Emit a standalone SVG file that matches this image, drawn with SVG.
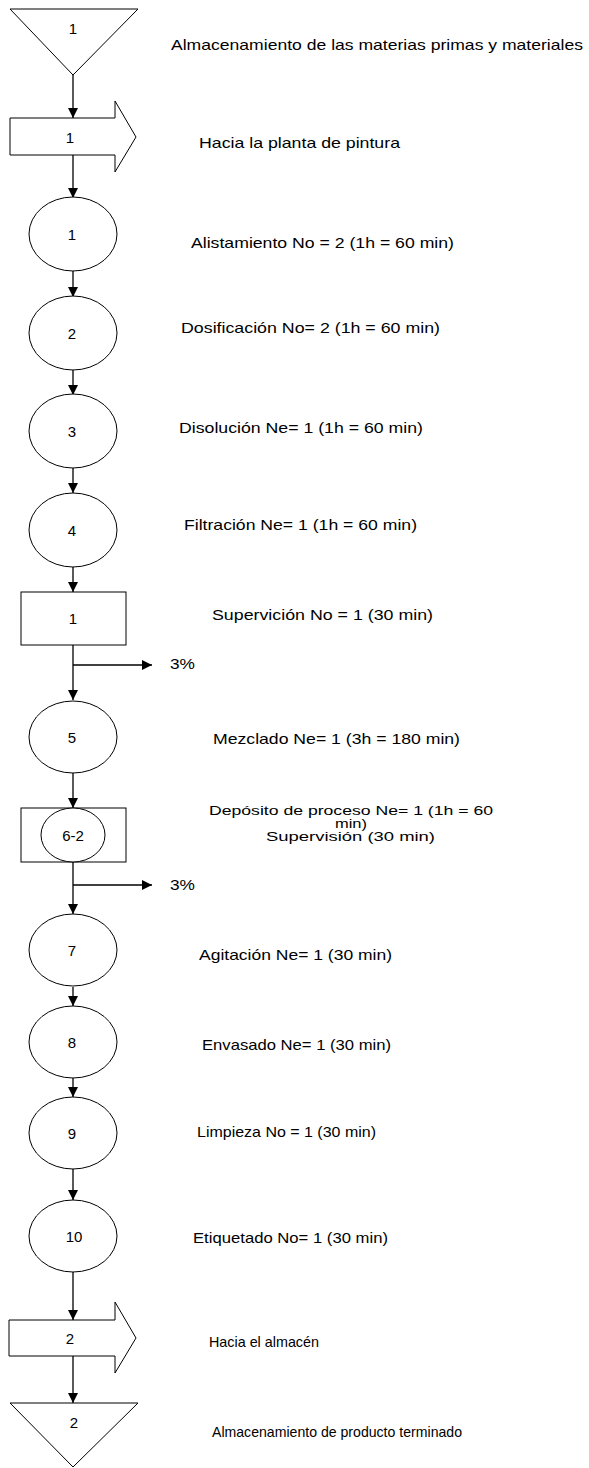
<svg xmlns="http://www.w3.org/2000/svg" width="589" height="1468" viewBox="0 0 589 1468">
<style>
.s{fill:#fff;stroke:#000;stroke-width:1}
.t{font-family:"Liberation Sans",Arial,sans-serif;font-size:15px;fill:#000}
.m{font-family:"Liberation Sans",Arial,sans-serif;font-size:13px;fill:#000}
.n{font-family:"Liberation Sans",Arial,sans-serif;font-size:15px;fill:#000;text-anchor:middle}
.c{fill:none;stroke:#000;stroke-width:1.3}
</style>
<defs>
<marker id="ah" viewBox="0 0 10 10" refX="10" refY="5" markerWidth="10" markerHeight="10" markerUnits="userSpaceOnUse" orient="auto">
<path d="M0,0 L10,5 L0,10 Z" fill="#000"/>
</marker>
</defs>
<rect width="589" height="1468" fill="#fff"/>
<g id="connectors">
<line class="c" x1="73" y1="75" x2="73" y2="118" marker-end="url(#ah)"/>
<line class="c" x1="73" y1="155" x2="73" y2="198" marker-end="url(#ah)"/>
<line class="c" x1="73" y1="271" x2="73" y2="297" marker-end="url(#ah)"/>
<line class="c" x1="73" y1="370" x2="73" y2="395" marker-end="url(#ah)"/>
<line class="c" x1="73" y1="468" x2="73" y2="493" marker-end="url(#ah)"/>
<line class="c" x1="73" y1="567" x2="73" y2="592" marker-end="url(#ah)"/>
<line class="c" x1="73" y1="645" x2="73" y2="700" marker-end="url(#ah)"/>
<line class="c" x1="73" y1="665" x2="152" y2="665" marker-end="url(#ah)"/>
<line class="c" x1="73" y1="773" x2="73" y2="808" marker-end="url(#ah)"/>
<line class="c" x1="73" y1="862" x2="73" y2="914" marker-end="url(#ah)"/>
<line class="c" x1="73" y1="885" x2="152" y2="885" marker-end="url(#ah)"/>
<line class="c" x1="73" y1="987" x2="73" y2="1006" marker-end="url(#ah)"/>
<line class="c" x1="73" y1="1078" x2="73" y2="1097" marker-end="url(#ah)"/>
<line class="c" x1="73" y1="1168" x2="73" y2="1200" marker-end="url(#ah)"/>
<line class="c" x1="73" y1="1272" x2="73" y2="1320" marker-end="url(#ah)"/>
<line class="c" x1="73" y1="1356" x2="73" y2="1403" marker-end="url(#ah)"/>
</g>
<g id="storage1">
<polygon class="s" points="10,9 138,9 73,75"/>
<text class="n" x="73" y="34">1</text>
</g>
<g id="transport1">
<polygon class="s" points="10,118 115,118 115,101 136,137 115,172 115,155 10,155"/>
<text class="n" x="70" y="143">1</text>
</g>
<g id="op1"><ellipse class="s" cx="73" cy="234" rx="44" ry="37"/><text class="n" x="72" y="240">1</text></g>
<g id="op2"><ellipse class="s" cx="73" cy="333" rx="44" ry="37"/><text class="n" x="72" y="339">2</text></g>
<g id="op3"><ellipse class="s" cx="73" cy="431" rx="44" ry="37"/><text class="n" x="72" y="437">3</text></g>
<g id="op4"><ellipse class="s" cx="73" cy="530" rx="44" ry="37"/><text class="n" x="72" y="536">4</text></g>
<g id="insp1"><rect class="s" x="21" y="592" width="105" height="53"/><text class="n" x="73" y="624">1</text></g>
<g id="op5"><ellipse class="s" cx="73" cy="737" rx="44" ry="36"/><text class="n" x="72" y="743">5</text></g>
<g id="combo62">
<rect class="s" x="21" y="808" width="105" height="54"/>
<ellipse class="s" cx="73" cy="835" rx="32" ry="27"/>
<text class="n" x="73" y="841">6-2</text>
</g>
<g id="op7"><ellipse class="s" cx="73" cy="950" rx="44" ry="36"/><text class="n" x="72" y="956">7</text></g>
<g id="op8"><ellipse class="s" cx="73" cy="1042" rx="44" ry="36"/><text class="n" x="72" y="1048">8</text></g>
<g id="op9"><ellipse class="s" cx="73" cy="1133" rx="44" ry="36"/><text class="n" x="72" y="1139">9</text></g>
<g id="op10"><ellipse class="s" cx="73" cy="1236" rx="44" ry="36"/><text class="n" x="74" y="1242">10</text></g>
<g id="transport2">
<polygon class="s" points="9,1320 115,1320 115,1302 136,1338 115,1373 115,1356 9,1356"/>
<text class="n" x="70" y="1344">2</text>
</g>
<g id="storage2">
<polygon class="s" points="10,1403 138,1403 73,1467"/>
<text class="n" x="74" y="1428">2</text>
</g>
<g id="labels">
<text class="t" x="171" y="50" textLength="412" lengthAdjust="spacingAndGlyphs">Almacenamiento de las materias primas y materiales</text>
<text class="t" x="199" y="148" textLength="201" lengthAdjust="spacingAndGlyphs">Hacia la planta de pintura</text>
<text class="t" x="191" y="248" textLength="263" lengthAdjust="spacingAndGlyphs">Alistamiento No = 2 (1h = 60 min)</text>
<text class="t" x="181" y="333" textLength="259" lengthAdjust="spacingAndGlyphs">Dosificación No= 2 (1h = 60 min)</text>
<text class="t" x="179" y="433" textLength="244" lengthAdjust="spacingAndGlyphs">Disolución Ne= 1 (1h = 60 min)</text>
<text class="t" x="184" y="530" textLength="233" lengthAdjust="spacingAndGlyphs">Filtración Ne= 1 (1h = 60 min)</text>
<text class="t" x="212" y="620" textLength="221" lengthAdjust="spacingAndGlyphs">Supervición No = 1 (30 min)</text>
<text class="t" x="170" y="669" textLength="25" lengthAdjust="spacingAndGlyphs">3%</text>
<text class="t" x="213" y="744" textLength="247" lengthAdjust="spacingAndGlyphs">Mezclado Ne= 1 (3h = 180 min)</text>
<text class="m" x="209" y="815" textLength="284" lengthAdjust="spacingAndGlyphs">Depósito de proceso Ne= 1 (1h = 60</text>
<text class="m" x="335" y="828" textLength="32" lengthAdjust="spacingAndGlyphs">min)</text>
<text class="m" x="266" y="841" textLength="169" lengthAdjust="spacingAndGlyphs">Supervisión (30 min)</text>
<text class="t" x="170" y="890" textLength="25" lengthAdjust="spacingAndGlyphs">3%</text>
<text class="t" x="199" y="960" textLength="193" lengthAdjust="spacingAndGlyphs">Agitación Ne= 1 (30 min)</text>
<text class="t" x="202" y="1050" textLength="189" lengthAdjust="spacingAndGlyphs">Envasado Ne= 1 (30 min)</text>
<text class="t" x="197" y="1137" textLength="179" lengthAdjust="spacingAndGlyphs">Limpieza No = 1 (30 min)</text>
<text class="t" x="193" y="1243" textLength="195" lengthAdjust="spacingAndGlyphs">Etiquetado No= 1 (30 min)</text>
<text class="t" x="209" y="1347" textLength="110" lengthAdjust="spacingAndGlyphs">Hacia el almacén</text>
<text class="t" x="212" y="1437" textLength="250" lengthAdjust="spacingAndGlyphs">Almacenamiento de producto terminado</text>
</g>
</svg>
